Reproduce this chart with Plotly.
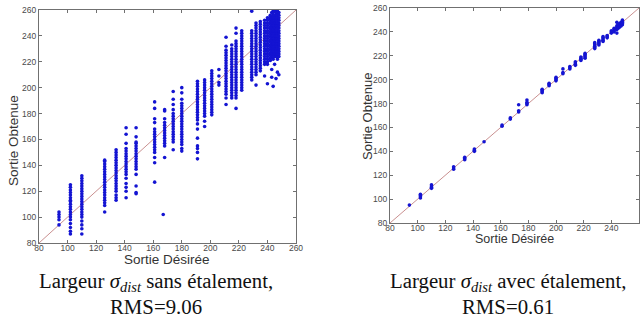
import plotly.graph_objects as go

# ---------------- data ----------------
# Left panel: "sans étalement" — desired output levels and obtained outputs per level
left_desired = [94, 102, 110, 126, 134, 141, 148, 161, 167, 168, 174, 180, 191, 196, 201, 206,
                211, 215, 218, 222, 229, 232, 235, 238, 240, 242, 243, 244, 245, 246, 247, 248]
left_obtained = [
    [94, 98, 100, 102, 104],
    [87, 89, 92, 95, 98, 100, 102, 104, 106, 108, 110, 112, 113, 115, 117, 119, 121, 123, 125],
    [87, 91, 94, 97, 100, 102, 104, 106, 108, 110, 112, 114, 116, 118, 120, 122, 124, 126, 128, 130, 132],
    [104, 109, 111, 113, 115, 117, 119, 121, 123, 125, 127, 129, 131, 133, 135, 137, 139, 141, 143, 144],
    [113, 115, 117, 120, 122, 124, 126, 128, 130, 132, 134, 136, 138, 140, 142, 144, 146, 148, 150, 152],
    [115, 120, 123, 126, 130, 133, 135, 137, 139, 141, 143, 145, 147, 149, 151, 153, 157, 164, 169],
    [118, 119, 124, 133, 137, 139, 141, 143, 145, 147, 149, 151, 153, 155, 157, 158, 162, 169],
    [127, 142, 146, 150, 152, 154, 156, 158, 160, 162, 164, 166, 168, 173, 176, 184, 189],
    [102],
    [146, 155, 157, 159, 161, 163, 165, 167, 169, 171, 173, 176, 182, 183],
    [152, 158, 160, 162, 164, 166, 168, 170, 172, 174, 176, 178, 180, 183, 187, 191, 197],
    [151, 153, 156, 158, 160, 162, 164, 166, 168, 170, 172, 174, 176, 178, 180, 182, 184, 186, 188, 191, 196, 200],
    [145, 150, 153, 155, 161, 168, 172, 175, 177, 179, 181, 183, 185, 187, 189, 191, 193, 195, 197, 199, 201, 203, 205],
    [170, 174, 178, 180, 182, 184, 186, 188, 190, 192, 194, 196, 198, 200, 202, 204, 206],
    [179, 181, 183, 185, 187, 189, 191, 193, 195, 197, 199, 201, 203, 205, 207, 209, 211, 213],
    [202, 204, 209, 214],
    [187, 192, 195, 197, 199, 201, 203, 205, 207, 209, 211, 213, 215, 217, 219, 221, 223, 225, 227, 229, 232, 239],
    [192, 194, 196, 198, 200, 202, 204, 206, 208, 210, 212, 214, 216, 218, 220, 222, 224, 226, 228, 230, 233],
    [184, 192, 194, 196, 198, 200, 202, 204, 206, 208, 210, 212, 214, 216, 218, 220, 222, 224, 226, 228, 230, 232, 234, 236, 242, 246],
    [198, 200, 202, 204, 206, 208, 210, 212, 214, 216, 218, 220, 222, 224, 226, 228, 230, 232, 234, 236, 238, 240, 242, 244],
    [206, 208, 210, 212, 214, 216, 218, 220, 222, 224, 226, 228, 230, 232, 234, 236, 238, 240, 242, 244, 259],
    [202, 210, 212, 214, 216, 218, 220, 222, 224, 226, 228, 230, 232, 234, 236, 238, 240, 242, 244, 246, 248, 250],
    [213, 215, 217, 219, 221, 223, 225, 227, 229, 231, 233, 235, 237, 239, 241, 243, 245, 247, 249, 251],
    [209, 218, 220, 222, 224, 226, 228, 230, 232, 234, 236, 238, 240, 242, 244, 246, 248, 250, 252],
    [203, 218, 220, 222, 224, 226, 228, 230, 232, 234, 236, 238, 240, 242, 244, 246, 248, 250, 252, 254],
    [221, 223, 225, 227, 229, 231, 233, 235, 237, 239, 241, 243, 245, 247, 249, 251, 253, 255, 256],
    [208, 214, 223, 225, 227, 229, 231, 233, 235, 237, 239, 241, 243, 245, 247, 249, 251, 253, 255, 258],
    [201, 222, 224, 226, 228, 230, 232, 234, 236, 238, 240, 242, 244, 246, 248, 250, 252, 254, 256, 258, 260],
    [218, 224, 226, 228, 230, 232, 234, 236, 238, 240, 242, 244, 246, 248, 250, 252, 254, 256, 259],
    [207, 224, 226, 228, 230, 232, 234, 236, 238, 240, 242, 244, 246, 248, 250, 252, 254, 256, 258],
    [212, 222, 224, 226, 228, 230, 232, 234, 236, 238, 240, 242, 244, 246, 248, 250, 252, 254, 256, 258, 260],
    [210, 224, 226, 228, 230, 232, 234, 236, 238, 240, 242, 244, 246, 248, 250, 252, 254, 256, 258],
]

# Right panel: "avec étalement"
right_desired = [94, 102, 110, 126, 134, 141, 148, 161, 167, 173, 179, 190, 195, 200, 205, 210,
                 214, 218, 221, 228, 231, 234, 237, 240, 242, 244, 245, 246, 247, 248]
right_obtained = [
    [95], [101, 102, 103, 104], [109, 110, 111, 112], [125, 126, 127], [133, 134, 135],
    [140, 141, 142], [148], [161, 162], [167, 168], [173, 174, 179], [179, 180, 181, 183],
    [189, 190, 191, 192], [195, 196, 197], [199, 200, 201, 202], [205, 206, 209], [209, 210, 211],
    [212, 213, 214, 215], [216, 217, 218, 219], [218, 219, 220, 221, 222],
    [226, 227, 228, 229, 230, 231], [229, 230, 231, 232, 233], [232, 233, 234, 235, 236],
    [235, 236, 237], [239, 240, 241], [240, 241, 242, 243], [239, 242, 243, 244, 245, 248],
    [243, 244, 245, 246], [244, 245, 246, 247], [245, 246, 247, 248], [246, 247, 248, 249, 250],
]

axis_range = [80, 260]
tick_values = [80, 100, 120, 140, 160, 180, 200, 220, 240, 260]
x_title = "Sortie Désirée"
y_title = "Sortie Obtenue"
captions = [
    ("Largeur <i>σ<sub>dist</sub></i> sans étalement,", "RMS=9.06"),
    ("Largeur <i>σ<sub>dist</sub></i> avec étalement,", "RMS=0.61"),
]

# ---------------- figure ----------------
W, H = 644, 336
def px_x(p):
    return p / W
def px_y(p):
    return 1 - p / H

panels = [
    dict(x0=39, x1=296, y0=10, y1=243, xs=left_desired, ys=left_obtained),
    dict(x0=390, x1=639, y0=8, y1=223, xs=right_desired, ys=right_obtained),
]

MARK = "#1414d2"
fig = go.Figure()
for i, p in enumerate(panels):
    xa = "x" if i == 0 else "x2"
    ya = "y" if i == 0 else "y2"
    xs, ys = [], []
    for xv, col in zip(p["xs"], p["ys"]):
        for yv in col:
            xs.append(xv)
            ys.append(yv)
    fig.add_trace(go.Scatter(x=axis_range, y=axis_range, mode="lines",
                             line=dict(color="#c99090", width=1), xaxis=xa, yaxis=ya,
                             showlegend=False, hoverinfo="skip", cliponaxis=False))
    fig.add_trace(go.Scatter(x=xs, y=ys, mode="markers",
                             marker=dict(color=MARK, size=3.6, line=dict(width=0)),
                             xaxis=xa, yaxis=ya, showlegend=False))

tickfont = dict(family="Liberation Sans Narrow, Arial Narrow, Liberation Sans, Arial", size=8.5, color="#4a4a4a")
axis_common = dict(range=axis_range, tickmode="array", tickvals=tick_values, ticks="inside",
                   ticklen=3, tickcolor="#707070", showline=True, linecolor="#707070", linewidth=1,
                   mirror="ticks", showgrid=False, zeroline=False, tickfont=tickfont, fixedrange=True,
                   automargin=False)

layout = dict(width=W, height=H, margin=dict(l=0, r=0, t=0, b=0, autoexpand=False),
              paper_bgcolor="white", plot_bgcolor="white", showlegend=False)
for i, p in enumerate(panels):
    sx = "" if i == 0 else "2"
    layout["xaxis" + sx] = dict(axis_common, domain=[px_x(p["x0"]), px_x(p["x1"])],
                                anchor="y" + sx, ticklabelstandoff=-3)
    layout["yaxis" + sx] = dict(axis_common, domain=[px_y(p["y1"]), px_y(p["y0"])],
                                anchor="x" + sx, ticklabelstandoff=0)
fig.update_layout(**layout)

titlefont = dict(family="Liberation Sans, Arial", size=13.5, color="#333333")
capfont = dict(family="Liberation Serif, Times New Roman", size=20.8, color="#111111")
annos = [
    # left panel titles
    dict(x=px_x(167), y=px_y(259), text=x_title, font=titlefont),
    dict(x=px_x(13), y=px_y(141), text=y_title, font=titlefont, textangle=-90),
    # right panel titles
    dict(x=px_x(514), y=px_y(238.5), text=x_title, font=dict(titlefont, size=12.5)),
    dict(x=px_x(367), y=px_y(117), text=y_title, font=dict(titlefont, size=13), textangle=-90),
    # captions
    dict(x=px_x(156), y=px_y(282), text=captions[0][0], font=capfont),
    dict(x=px_x(156), y=px_y(306), text=captions[0][1], font=capfont),
    dict(x=px_x(508), y=px_y(282), text=captions[1][0], font=capfont),
    dict(x=px_x(508), y=px_y(306), text=captions[1][1], font=capfont),
]
for a in annos:
    fig.add_annotation(xref="paper", yref="paper", showarrow=False,
                       xanchor="center", yanchor="middle", **a)

fig.write_html("out.html", config={"displayModeBar": False},
               post_script="document.body.style.margin='0';document.body.style.overflow='hidden';")
